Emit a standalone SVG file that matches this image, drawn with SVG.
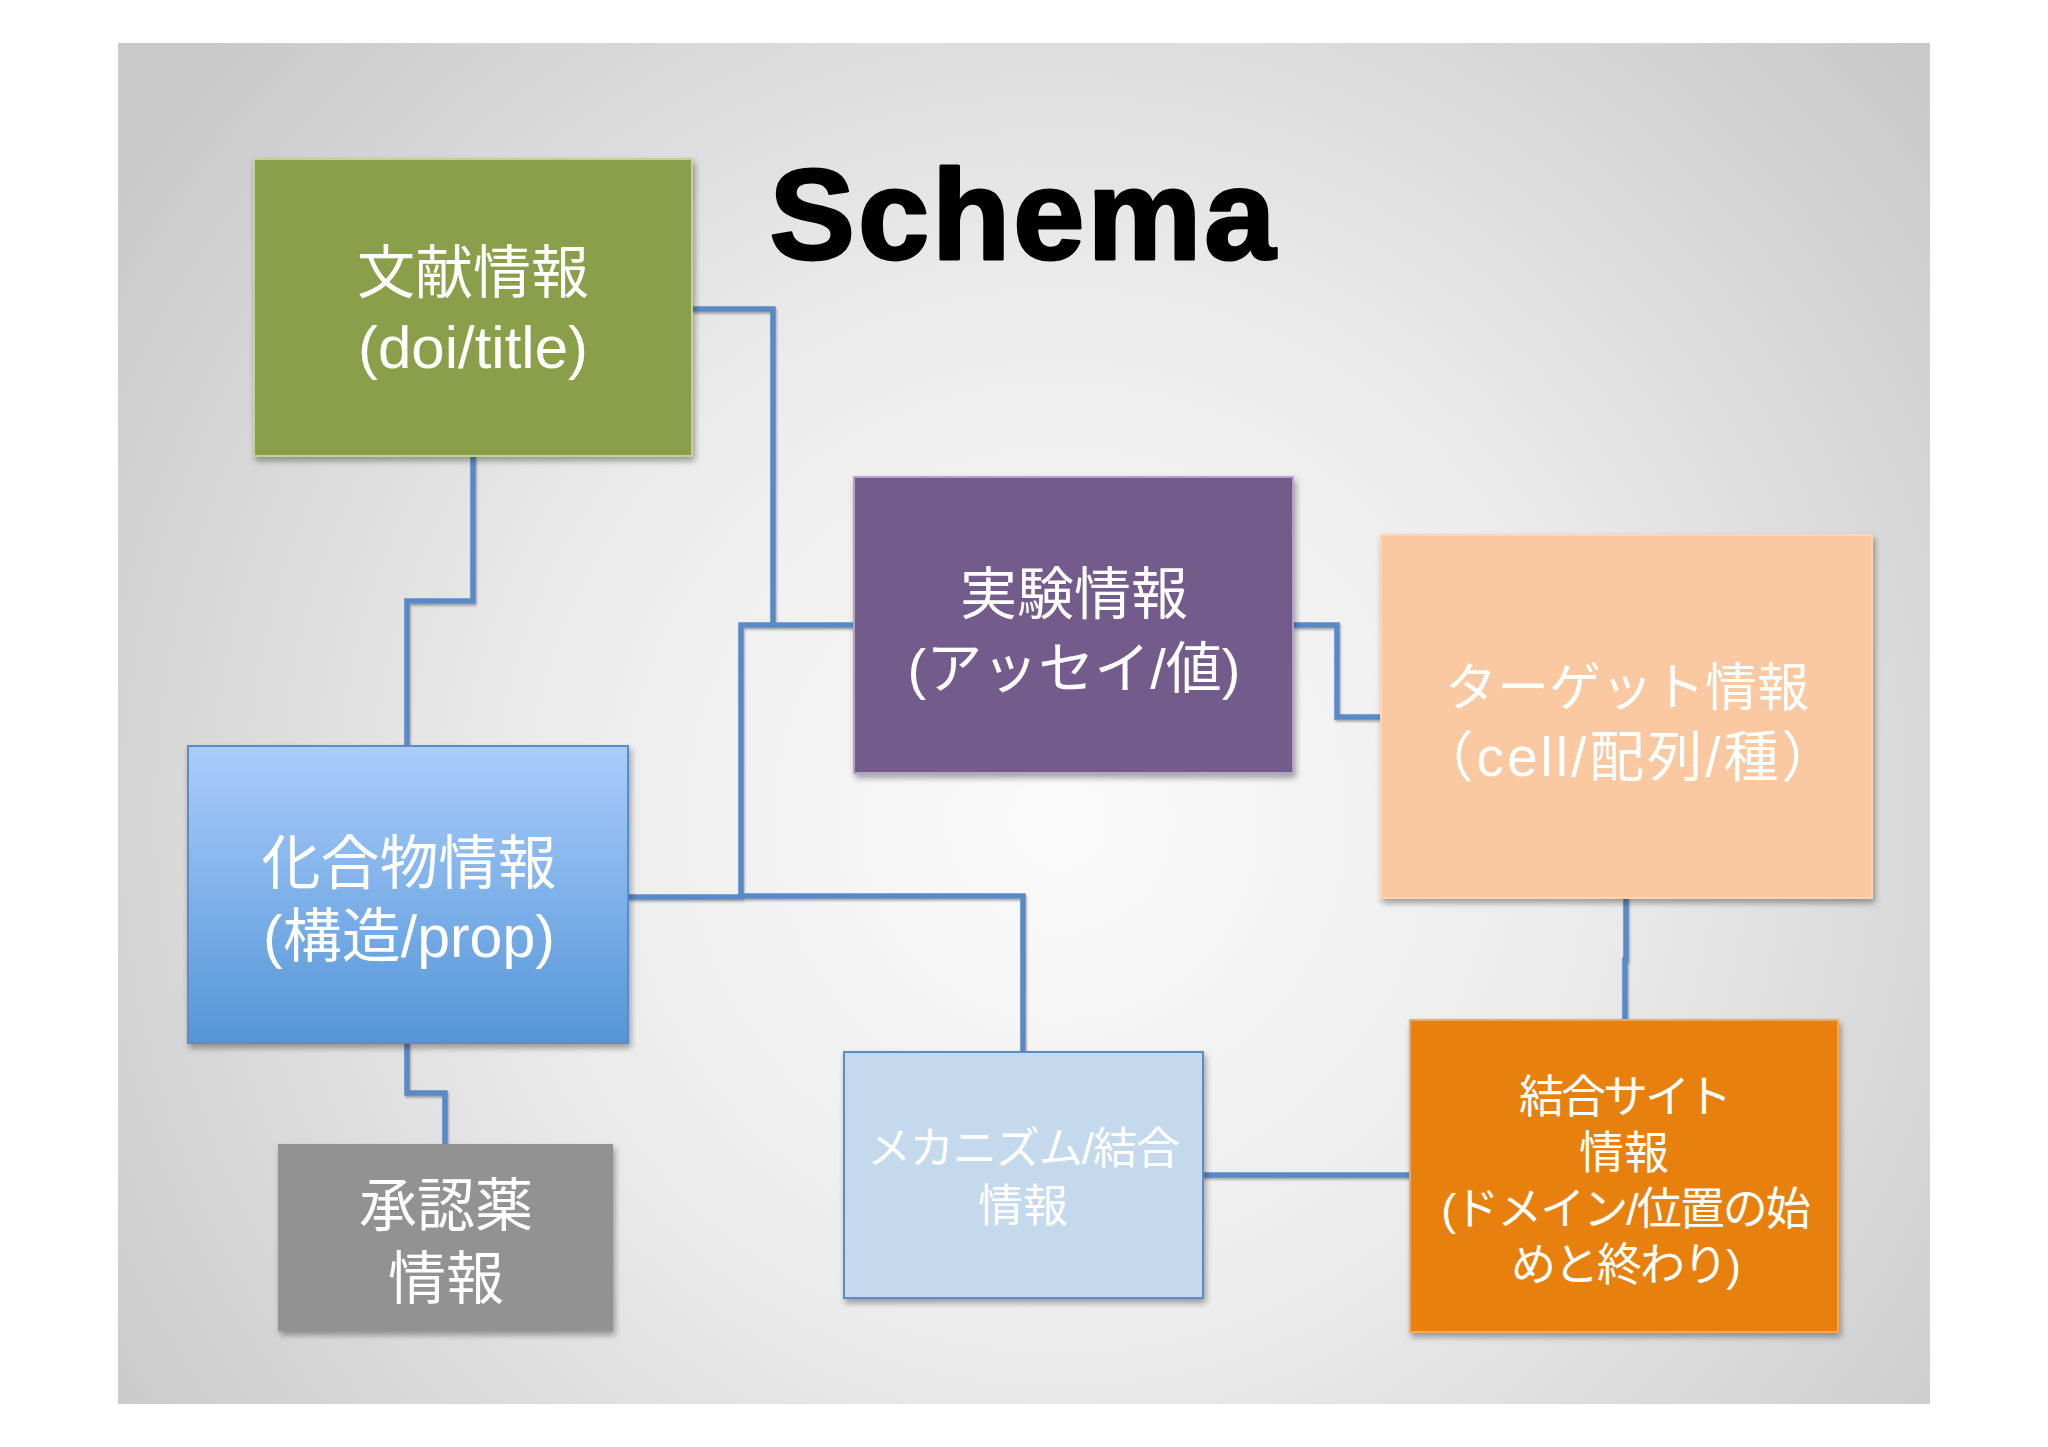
<svg xmlns="http://www.w3.org/2000/svg" width="2048" height="1447" viewBox="0 0 2048 1447">
<defs>
<radialGradient id="bg" cx="1060" cy="820" r="1150" gradientUnits="userSpaceOnUse">
<stop offset="0" stop-color="#fbfbfb"/>
<stop offset="0.45" stop-color="#ececed"/>
<stop offset="1" stop-color="#c9c9ca"/>
</radialGradient>
<linearGradient id="blueg" x1="0" y1="0" x2="0" y2="1">
<stop offset="0" stop-color="#aacdfb"/>
<stop offset="1" stop-color="#5495d7"/>
</linearGradient>
<filter id="sh" x="-5%" y="-5%" width="115%" height="115%">
<feDropShadow dx="2" dy="4" stdDeviation="3" flood-color="#000" flood-opacity="0.35"/>
</filter>
<filter id="lsh" x="-5%" y="-5%" width="110%" height="110%">
<feDropShadow dx="1" dy="2" stdDeviation="1.2" flood-color="#000" flood-opacity="0.3"/>
</filter>
<style>
.t{font-family:"Liberation Sans","Noto Sans CJK JP",sans-serif;fill:#ffffff;text-anchor:middle}
.c{fill:none;stroke:#5a8ac6;stroke-width:5.5;stroke-linejoin:miter}
</style>
</defs>
<rect x="0" y="0" width="2048" height="1447" fill="#ffffff"/>
<rect x="118" y="43" width="1812" height="1361" fill="url(#bg)"/>
<text x="1024" y="259" font-family="Liberation Sans,Arial,sans-serif" font-weight="bold" font-size="128" letter-spacing="3" fill="#000" stroke="#000" stroke-width="3" stroke-linejoin="round" text-anchor="middle">Schema</text>
<g id="connectors" filter="url(#lsh)">
<path class="c" d="M692,309 H773 V625 H854"/>
<path class="c" d="M628,897 H741 V625 H773"/>
<path class="c" d="M741,896 H1023 V1052"/>
<path class="c" d="M473,456 V601 H407 V746"/>
<path class="c" d="M407,1043 V1093 H445 V1144"/>
<path class="c" d="M1293,625 H1337 V717 H1381"/>
<path class="c" d="M1626,898 V960 H1625 V1020"/>
<path class="c" d="M1203,1175 H1410"/>
</g>
<g id="bunken">
<rect x="254" y="159" width="438" height="297" fill="#8b9f4b" stroke="#c3d19a" stroke-width="2" filter="url(#sh)"/>
<text class="t" x="473" y="293" font-size="58">文献情報</text>
<text class="t" x="473" y="368" font-size="60">(doi/title)</text>
</g>
<g id="jikken">
<rect x="854" y="477" width="439" height="296" fill="#735c8b" stroke="#b3a3cc" stroke-width="2" filter="url(#sh)"/>
<text class="t" x="1074" y="614" font-size="57">実験情報</text>
<text class="t" x="1074" y="688" font-size="56">(アッセイ/値)</text>
</g>
<g id="target">
<rect x="1381" y="535" width="491" height="363" fill="#fac8a1" stroke="#fbd6b8" stroke-width="2" filter="url(#sh)"/>
<text class="t" x="1627" y="706" font-size="52">ターゲット情報</text>
<text class="t" x="1629" y="776" font-size="55" letter-spacing="3">（cell/配列/種）</text>
</g>
<g id="kagobutsu">
<rect x="188" y="746" width="440" height="297" fill="url(#blueg)" stroke="#5b8cc8" stroke-width="2" filter="url(#sh)"/>
<text class="t" x="409" y="884" font-size="59">化合物情報</text>
<text class="t" x="409" y="957" font-size="59">(構造/prop)</text>
</g>
<g id="shoninyaku">
<rect x="278" y="1144" width="335" height="187" fill="#939293" filter="url(#sh)"/>
<text class="t" x="446" y="1226" font-size="58">承認薬</text>
<text class="t" x="446" y="1299" font-size="58">情報</text>
</g>
<g id="mechanism">
<rect x="844" y="1052" width="359" height="246" fill="#c5d9ec" stroke="#5b8cc8" stroke-width="2" filter="url(#sh)"/>
<text class="t" x="1023" y="1164" font-size="44" letter-spacing="-1">メカニズム/結合</text>
<text class="t" x="1023" y="1222" font-size="45">情報</text>
</g>
<g id="ketsugosite">
<rect x="1410" y="1020" width="428" height="312" fill="#e8800a" stroke="#f2a860" stroke-width="2" filter="url(#sh)"/>
<text class="t" x="1624" y="1113" font-size="45" letter-spacing="-3">結合サイト</text>
<text class="t" x="1624" y="1169" font-size="45">情報</text>
<text class="t" x="1625" y="1225" font-size="45" letter-spacing="-2">(ドメイン/位置の始</text>
<text class="t" x="1625" y="1281" font-size="45" letter-spacing="-2">めと終わり)</text>
</g>
</svg>
